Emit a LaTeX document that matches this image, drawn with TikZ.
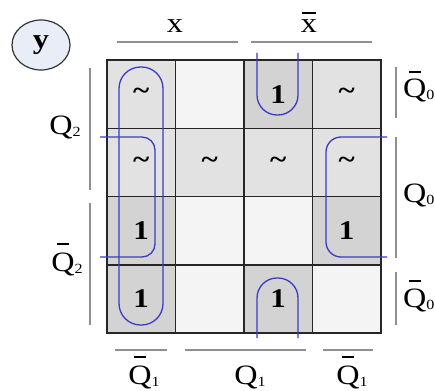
\documentclass[tikz,border=0pt]{standalone}
\usepackage{fontspec}
\setmainfont{Liberation Serif}
\usepackage{graphicx}
\usetikzlibrary{shapes.geometric}
\definecolor{onec}{HTML}{D3D3D3}
\definecolor{dcc}{HTML}{E2E2E2}
\definecolor{empc}{HTML}{F4F4F4}
\definecolor{loopc}{HTML}{3B3BC8}
\definecolor{rulec}{HTML}{8F8F8F}
\definecolor{circc}{HTML}{E8EDF7}
\newcommand{\sx}[1]{\scalebox{1.15}[1]{#1}}
\newcommand{\ovb}[3]{\setbox0\hbox{#1}\rlap{\hbox to \wd0{\hss\vrule height #2 depth \dimexpr 1.8pt-#2\relax width #3\wd0\hss}}\box0}
\newcommand{\sbs}[1]{\raisebox{-2pt}{\fontsize{14}{14}\selectfont #1}}
\begin{document}
\begin{tikzpicture}[x=1pt,y=-1pt,
  lab/.style={font=\fontsize{28}{28}\selectfont, inner sep=0pt},
  cellbox/.style={draw=black!85, line width=1.5pt, minimum width=68.5pt, minimum height=68.25pt, inner sep=0pt, font=\fontsize{27}{27}\selectfont\bfseries},
  onecell/.style={cellbox, fill=onec},
  dccell/.style={cellbox, fill=dcc},
  empcell/.style={cellbox, fill=empc},
  loopline/.style={draw=loopc, line width=1.3pt},
  guide/.style={draw=rulec, line width=2pt}]
\useasboundingbox[fill=white] (0,0) rectangle (435,390);
% cells
\node[dccell]  (c00) at (141.25, 94.125) {\sx{\textasciitilde}};
\node[empcell] (c01) at (209.75, 94.125) {};
\node[onecell] (c02) at (278.25, 94.125) {\sx{1}};
\node[dccell]  (c03) at (346.75, 94.125) {\sx{\textasciitilde}};
\node[dccell]  (c10) at (141.25,162.375) {\sx{\textasciitilde}};
\node[dccell]  (c11) at (209.75,162.375) {\sx{\textasciitilde}};
\node[dccell]  (c12) at (278.25,162.375) {\sx{\textasciitilde}};
\node[dccell]  (c13) at (346.75,162.375) {\sx{\textasciitilde}};
\node[onecell] (c20) at (141.25,230.625) {\sx{1}};
\node[empcell] (c21) at (209.75,230.625) {};
\node[empcell] (c22) at (278.25,230.625) {};
\node[onecell] (c23) at (346.75,230.625) {\sx{1}};
\node[onecell] (c30) at (141.25,298.875) {\sx{1}};
\node[empcell] (c31) at (209.75,298.875) {};
\node[onecell] (c32) at (278.25,298.875) {\sx{1}};
\node[empcell] (c33) at (346.75,298.875) {};
% loops
\draw[loopline, rounded corners=21.5pt] (119,67) rectangle (163,325);
\draw[loopline, rounded corners=13pt] (100,137) -- (155,137) -- (155,257) -- (100,257);
\draw[loopline, rounded corners=15pt] (387,137) -- (326,137) -- (326,257) -- (387,257);
\draw[loopline, rounded corners=20pt] (257,53) -- (257,115) -- (298,115) -- (298,53);
\draw[loopline, rounded corners=20pt] (257,338) -- (257,278) -- (298,278) -- (298,338);
% output circle
\node[ellipse, draw=black!80, line width=1.2pt, fill=circc, minimum width=58pt, minimum height=50pt, inner sep=0pt, font=\fontsize{28}{28}\selectfont\bfseries] (yc) at (41,45) {\sx{y}};
% guide lines
\draw[guide] (117,42) -- (238,42);
\draw[guide] (251,42) -- (372,42);
\draw[guide] (90,68) -- (90,190);
\draw[guide] (90,203) -- (90,325);
\draw[guide] (396,67) -- (396,118);
\draw[guide] (396,137) -- (396,258);
\draw[guide] (396,272) -- (396,325);
\draw[guide] (115,350) -- (167,350);
\draw[guide] (185,350) -- (306,350);
\draw[guide] (323,350) -- (373,350);
% labels
\node[lab, anchor=base] (lx)  at (175,33) {\sx{x}};
\node[lab, anchor=base] (lxb) at (309,33) {\sx{\ovb{x}{21pt}{0.9}}};
\node[lab, anchor=base] (lq2)  at (65,134) {\sx{Q\sbs{2}}};
\node[lab, anchor=base] (lq2b) at (67,271) {\sx{\ovb{Q}{28pt}{0.5}\sbs{2}}};
\node[lab, anchor=base west] (lq0b) at (403,98) {\sx{\ovb{Q}{27pt}{0.5}\sbs{0}}};
\node[lab, anchor=base west] (lq0)  at (403,202) {\sx{Q\sbs{0}}};
\node[lab, anchor=base west] (lq0c) at (403,307) {\sx{\ovb{Q}{27pt}{0.5}\sbs{0}}};
\node[lab, anchor=base] (lq1b) at (144,384) {\sx{\ovb{Q}{28pt}{0.5}\sbs{1}}};
\node[lab, anchor=base] (lq1)  at (250,384) {\sx{Q\sbs{1}}};
\node[lab, anchor=base] (lq1c) at (352,384) {\sx{\ovb{Q}{28pt}{0.5}\sbs{1}}};
\end{tikzpicture}
\end{document}
